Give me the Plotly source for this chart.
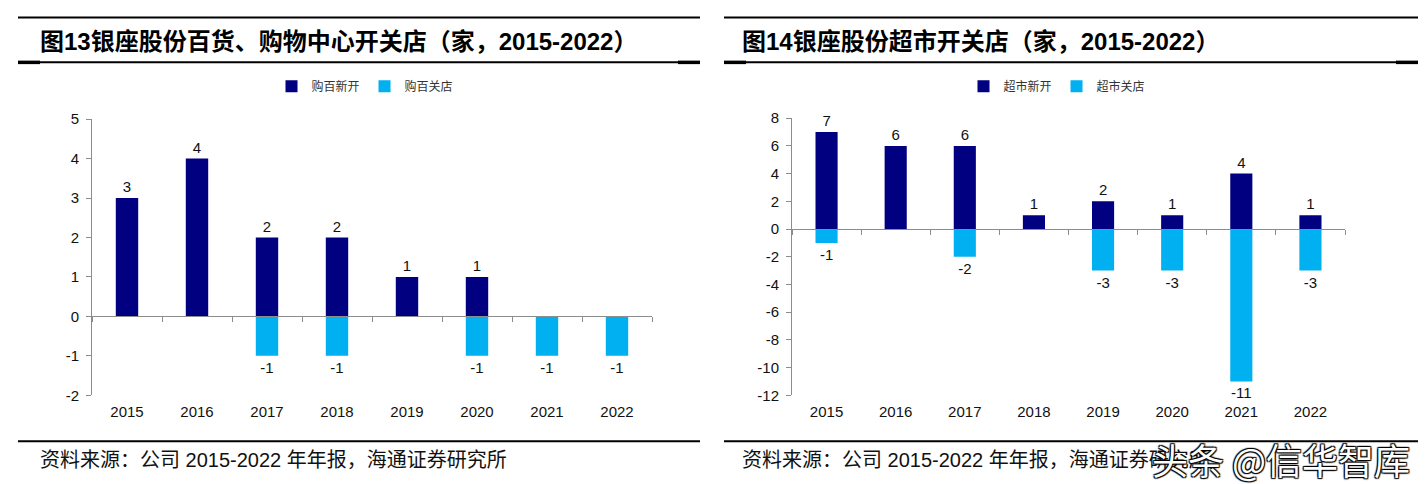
import plotly.graph_objects as go

# The page is placed with an 8px left offset and a 16px top offset, and the shot is
# squeezed vertically (500 -> 484); positions below are given in final picture pixels.
OFFX, OFFY, VS = 8, 16, 484 / 500
W, H = 1428 - 2 * OFFX, 484

years = ["2015", "2016", "2017", "2018", "2019", "2020", "2021", "2022"]
dept_open = [3, 4, 2, 2, 1, 1, 0, 0]
dept_close = [0, 0, -1, -1, 0, -1, -1, -1]
super_open = [7, 6, 6, 1, 2, 1, 4, 1]
super_close = [-1, 0, -2, 0, -3, -3, -11, -3]

left_title = "图13银座股份百货、购物中心开关店（家，2015-2022）"
right_title = "图14银座股份超市开关店（家，2015-2022）"
source_text = "资料来源：公司 2015-2022 年年报，海通证券研究所"
left_names = ["购百新开", "购百关店"]
right_names = ["超市新开", "超市关店"]
left_yticks = [-2, -1, 0, 1, 2, 3, 4, 5]
right_yticks = [-12, -10, -8, -6, -4, -2, 0, 2, 4, 6, 8]

NAVY = "#000080"
CYAN = "#00B0F0"
AXC = "#8c8c8c"
NUMFONT = "Liberation Sans, Arial, Noto Sans CJK SC"
CJK = "Noto Sans CJK SC, Liberation Sans"

idx = list(range(len(years)))
bounds = [i - 0.5 for i in range(len(years) + 1)]


def px(x):
    return (x - OFFX) / W


def py(y):
    return 1 - (y / VS - OFFY) / H


def lab(vals):
    return ["" if v == 0 else str(v) for v in vals]


fig = go.Figure()

panels = [
    dict(xa="x", ya="y", xo="x3", names=left_names, o=dept_open, c=dept_close,
         dom=[px(92), px(652)], ydom=[py(395), py(118)], yr=[-2, 5], yt=left_yticks,
         legend="legend"),
    dict(xa="x2", ya="y2", xo="x4", names=right_names, o=super_open, c=super_close,
         dom=[px(792), px(1345)], ydom=[py(395), py(117)], yr=[-12, 8], yt=right_yticks,
         legend="legend2"),
]

for p in panels:
    for name, vals, col in [(p["names"][0], p["o"], NAVY), (p["names"][1], p["c"], CYAN)]:
        fig.add_trace(go.Bar(
            x=idx, y=vals, name=name, marker=dict(color=col, line=dict(width=0)),
            width=0.32, text=lab(vals), textposition="outside",
            textfont=dict(family=NUMFONT, size=15, color="#111"),
            cliponaxis=False, xaxis=p["xa"], yaxis=p["ya"], legend=p["legend"],
        ))
    # invisible trace for the overlay axis carrying the zero line and boundary ticks
    fig.add_trace(go.Scatter(
        x=idx, y=[0] * len(idx), mode="markers", marker=dict(opacity=0),
        showlegend=False, hoverinfo="skip", xaxis=p["xo"], yaxis=p["ya"],
    ))

layout = dict(
    width=W, height=H, margin=dict(l=0, r=0, t=0, b=0),
    paper_bgcolor="white", plot_bgcolor="white",
    barmode="relative", bargap=0.68, showlegend=True,
    font=dict(family=NUMFONT, size=14, color="#111"),
)

axis_names = [("xaxis", "yaxis", "xaxis3", "y"), ("xaxis2", "yaxis2", "xaxis4", "y2")]
for p, (xn, yn, xon, yref) in zip(panels, axis_names):
    y0, y1 = p["ydom"]
    r0, r1 = p["yr"]
    zero_pos = y0 + (0 - r0) / (r1 - r0) * (y1 - y0)
    layout[xn] = dict(
        domain=p["dom"], anchor=yref, range=[-0.5, len(years) - 0.5],
        tickmode="array", tickvals=idx, ticktext=years, showline=False,
        ticks="", showgrid=False, zeroline=False, ticklabelstandoff=6,
        tickfont=dict(family=NUMFONT, size=15, color="#111"), fixedrange=True,
    )
    layout[xon] = dict(
        overlaying=p["xa"], anchor="free", position=zero_pos,
        range=[-0.5, len(years) - 0.5], tickmode="array", tickvals=bounds,
        showticklabels=False, ticks="outside", ticklen=5, tickcolor=AXC,
        showline=True, linecolor=AXC, linewidth=1, showgrid=False, zeroline=False,
    )
    layout[yn] = dict(
        domain=p["ydom"], anchor=p["xa"], range=p["yr"], tickmode="array",
        tickvals=p["yt"], ticktext=[str(v) for v in p["yt"]],
        showline=True, linecolor=AXC, linewidth=1, ticks="outside", ticklen=5,
        tickcolor=AXC, showgrid=False, zeroline=False, ticklabelstandoff=4,
        tickfont=dict(family=NUMFONT, size=15, color="#111"),
    )

legfont = dict(family=CJK, size=12, color="#333")
layout["legend"] = dict(orientation="h", x=px(365), y=py(85), xanchor="center",
                        yanchor="middle", font=legfont, itemwidth=30,
                        bgcolor="rgba(0,0,0,0)", tracegroupgap=0)
layout["legend2"] = dict(orientation="h", x=px(1057), y=py(85), xanchor="center",
                         yanchor="middle", font=legfont, itemwidth=30,
                         bgcolor="rgba(0,0,0,0)", tracegroupgap=0)

shapes = []
for x0, x1 in [(18, 700), (724, 1418)]:
    for yy in (16, 61, 441):
        shapes.append(dict(type="line", xref="paper", yref="paper",
                           x0=px(x0), x1=px(x1), y0=py(yy), y1=py(yy),
                           line=dict(color="black", width=2)))
    # slightly heavier ends on the title underline
    for a, b in [(x0, x0 + 22), (x1 - 22, x1)]:
        shapes.append(dict(type="line", xref="paper", yref="paper",
                           x0=px(a), x1=px(b), y0=py(61), y1=py(61),
                           line=dict(color="black", width=3.5)))
layout["shapes"] = shapes

ann = []
for txt, x in [(left_title, 38), (right_title, 740)]:
    ann.append(dict(text="<b>" + txt + "</b>", x=px(x), y=py(40), xref="paper", yref="paper",
                    xanchor="left", yanchor="middle", showarrow=False,
                    font=dict(family="Liberation Sans, Noto Sans CJK SC", size=24, color="black")))
for x in (38, 740):
    ann.append(dict(text=source_text, x=px(x), y=py(460), xref="paper", yref="paper",
                    xanchor="left", yanchor="middle", showarrow=False,
                    font=dict(family="Liberation Sans, Noto Sans CJK SC", size=20, color="#111")))
ann.append(dict(text="头条 @信华智库", x=px(1412), y=py(459), xref="paper", yref="paper",
                xanchor="right", yanchor="middle", showarrow=False,
                font=dict(family=CJK, size=36, color="white",
                          shadow="1px 1px 1px #000, -1px -1px 1px #000, 1px -1px 1px #000, -1px 1px 1px #000")))
layout["annotations"] = ann

fig.update_layout(**layout)
fig.write_html("out.html")
